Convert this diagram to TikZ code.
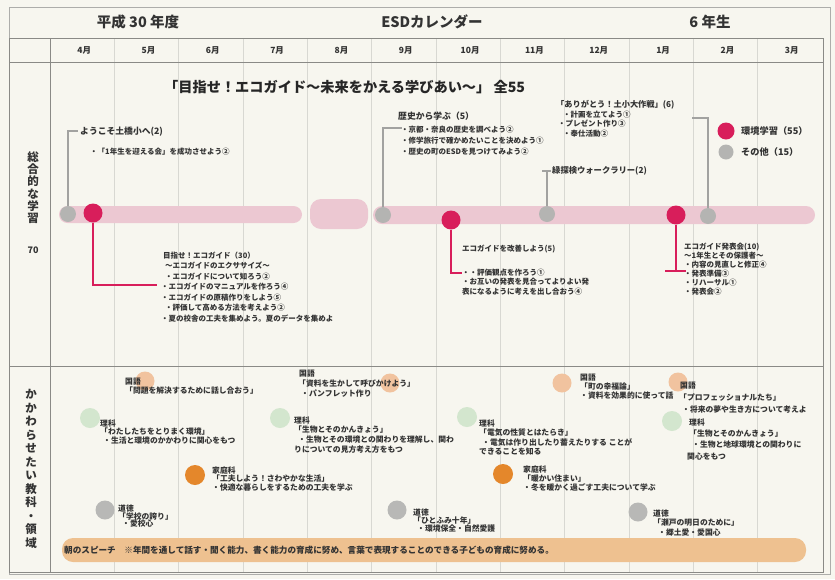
\documentclass[tikz,border=0pt]{standalone}
\usepackage{fontspec}
\setmainfont{Noto Sans CJK JP}
\definecolor{bg}{HTML}{F7F6EF}
\definecolor{ink}{HTML}{333333}
\definecolor{framec}{HTML}{8A8A86}
\definecolor{gridc}{HTML}{D8D8D2}
\definecolor{pinkbar}{HTML}{ECC8D2}
\definecolor{mag}{HTML}{D81E5B}
\definecolor{dotgray}{HTML}{B4B4B2}
\definecolor{linegray}{HTML}{A2A2A0}
\definecolor{kok}{HTML}{F1C39F}
\definecolor{rik}{HTML}{D3E6CE}
\definecolor{kat}{HTML}{E4872B}
\definecolor{dou}{HTML}{B8B8B6}
\definecolor{tanbar}{HTML}{EEC190}
\begin{document}
\begin{tikzpicture}[x=1pt,y=-1pt,
 frame/.style={draw=framec,line width=0.7pt},
 gridl/.style={draw=gridc,line width=0.5pt},
 hdr/.style={font=\fontsize{14.5}{16}\selectfont\bfseries,text=ink,inner sep=0},
 mon/.style={font=\fontsize{8.5}{10}\selectfont\bfseries,text=ink,inner sep=0},
 ln/.style={font=\fontsize{7.5}{9}\selectfont\bfseries,text=ink,inner sep=0,anchor=west},
 hd/.style={font=\fontsize{#1}{10}\selectfont\bfseries,text=ink,inner sep=0,anchor=west},
 blk/.style={font=\fontsize{7.5}{#1}\selectfont\bfseries,text=ink,inner sep=0,anchor=north west,align=left},
 blk/.default=9,
 sblk/.style={font=\fontsize{7.8}{#1}\selectfont\bfseries,text=ink,inner sep=0,anchor=north west,align=left},
 vlab/.style={font=\fontsize{11.5}{#1}\selectfont\bfseries,text=ink,inner sep=0,align=center},
 dot/.style={circle,inner sep=0,minimum size=#1},
 gdot/.style={dot=16,fill=dotgray},
 mdot/.style={dot=19,fill=mag},
 kdot/.style={dot=19,fill=kok},
 rdot/.style={dot=20,fill=rik},
 hdot/.style={dot=20,fill=kat},
 ddot/.style={dot=19,fill=dou},
 gline/.style={draw=linegray,line width=1.4pt},
 mline/.style={draw=mag,line width=1.8pt},
]
\useasboundingbox (0,0) rectangle (835,579);
\fill[bg] (0,0) rectangle (835,579);
% frame and table
\draw[draw=framec!70,line width=0.6pt] (9,7) rectangle (830,574);
\foreach \i in {1,...,11} \draw[gridl] ({50+\i*64.33},38) -- ({50+\i*64.33},572);
\draw[frame] (9,38) rectangle (823,572);
\draw[frame] (9,62) -- (823,62);
\draw[frame] (9,366) -- (823,366);
\draw[frame] (50,38) -- (50,572);
% header
\node[hdr] (h1) at (138,22) {平成 30 年度};
\node[hdr] (h2) at (432,22) {ESDカレンダー};
\node[hdr] (h3) at (710,22) {6 年生};
\foreach \m [count=\i] in {4月,5月,6月,7月,8月,9月,10月,11月,12月,1月,2月,3月}
  \node[mon] (mon\i) at ({52+(\i-0.5)*64.33},50) {\m};
% left labels
\node[vlab=12.3] (lab1) at (33,187.5) {総\\合\\的\\な\\学\\習};
\node[font=\fontsize{9}{10}\selectfont\bfseries,text=ink,inner sep=0] (lab70) at (33,250) {70};
\node[vlab=13.5] (lab2) at (31,469) {か\\か\\わ\\ら\\せ\\た\\い\\教\\科\\・\\領\\域};
% section 1 title
\node[font=\fontsize{14.2}{15}\selectfont\bfseries,text=black!85,inner sep=0,anchor=west] (title) at (164,87) {「目指せ！エコガイド～未来をかえる学びあい～」 全55};
% bars
\fill[pinkbar,rounded corners=8.5] (59,206) rectangle (302,223);
\fill[pinkbar,rounded corners=11] (310,199) rectangle (368,229);
\fill[pinkbar,rounded corners=9] (373,206) rectangle (815,224);
% circles
\node[gdot] (g1) at (68,214) {};
\node[mdot] (m1) at (93,213) {};
\node[gdot] (g2) at (383,215) {};
\node[mdot] (m2) at (451,220) {};
\node[gdot] (g3) at (547,214) {};
\node[mdot] (m3) at (676,215) {};
\node[gdot] (g4) at (708,216) {};
% legend
\node[dot=17,fill=mag] (lm) at (726,131) {};
\node[hd=9.2] (lmt) at (741,131) {環境学習（55）};
\node[dot=15,fill=dotgray] (lg) at (726,152) {};
\node[hd=9.2] (lgt) at (741,152) {その他（15）};
% connectors
\coordinate (g1e) at (78,131);
\draw[gline] (g1.north) |- (g1e);
\coordinate (g2e) at (402,128);
\draw[gline] (g2.north) |- (g2e);
\coordinate (g3e) at (551,171);
\coordinate (g3s) at (542,171);
\draw[gline] (g3.north) |- (g3e);
\draw[gline] (g3s) -- (g3e);
\coordinate (g4e) at (692,118);
\draw[gline] (g4.north) |- (g4e);
\coordinate (m1e) at (157,285);
\draw[mline] (m1.south) |- (m1e);
\coordinate (m2e) at (462,273);
\draw[mline] (m2.south) |- (m2e);
\coordinate (m3e) at (676,271);
\coordinate (m3a) at (665,271);
\coordinate (m3b) at (686,271);
\draw[mline] (m3.south) -- (m3e);
\draw[mline] (m3a) -- (m3b);
% section 1 texts
\node[hd=8.8] (t1) at (80,132) {ようこそ土橋小へ(2)};
\node[ln] (t1b) at (90,152) {・「1年生を迎える会」を成功させよう②};
\node[hd=8.8] (t2a) at (398,116) {歴史から学ぶ（5）};
\node[blk=11] (t2b) at (401,125.5) {・京都・奈良の歴史を調べよう②\\・修学旅行で確かめたいことを決めよう①\\・歴史の町のESDを見つけてみよう②};
\node[hd=8.3] (t3) at (552,171) {緑探検ウォークラリー(2)};
\node[hd=8.2] (t4a) at (556,105) {「ありがとう！土小大作戦」(6)};
\node[blk=9.7] (t4) at (556,110.5) {\hspace*{7pt}・計画を立てよう①\\\hspace*{2pt}・プレゼント作り③\\\hspace*{7pt}・奉仕活動②};
\node[blk=10.5] (t5) at (161,251.5) {\hspace*{2pt}目指せ！エコガイド（30）\\\hspace*{4pt}～エコガイドのエクササイズ～\\\hspace*{4pt}・エコガイドについて知ろう②\\・エコガイドのマニュアルを作ろう④\\・エコガイドの原稿作りをしよう⑤\\\hspace*{4pt}・評価して高める方法を考えよう②\\・夏の校舎の工夫を集めよう。夏のデータを集めよ};
\node[ln] (t6a) at (462,249) {エコガイドを改善しよう(5)};
\node[blk=9.5] (t6b) at (462,268.5) {・・評価観点を作ろう①\\・お互いの発表を見合ってよりよい発\\表になるように考えを出し合おう④};
\node[blk=9] (t7) at (684,242.5) {エコガイド発表会(10)\\～1年生とその保護者～\\・内容の見直しと修正④\\・発表準備③\\・リハーサル①\\・発表会②};
% section 2 circles
\node[kdot] (ck1) at (145,381) {};
\node[rdot] (cr1) at (90,418) {};
\node[kdot] (ck2) at (390,383) {};
\node[rdot] (cr2) at (280,418) {};
\node[rdot] (cr3) at (467,417) {};
\node[kdot] (ck3) at (562,383) {};
\node[kdot] (ck4) at (678,382) {};
\node[rdot] (cr4) at (672,421) {};
\node[hdot] (ch1) at (195,475) {};
\node[hdot] (ch2) at (503,474) {};
\node[ddot] (cd1) at (105,510) {};
\node[ddot] (cd2) at (397,510) {};
\node[ddot] (cd3) at (638,512) {};
% bottom bar
\fill[tanbar,rounded corners=11] (62,538) rectangle (806,562);
\node[hd=8.6] (speech) at (64,550) {朝のスピーチ　※年間を通して話す・聞く能力、書く能力の育成に努め、言葉で表現することのできる子どもの育成に努める。};
% section 2 texts
\node[sblk=9] (k1) at (125,377.5) {国語\\「問題を解決するために話し合おう」};
\node[sblk=8.6] (r1) at (100,419.5) {理科\\「わたしたちをとりまく環境」\\\hspace*{3pt}・生活と環境のかかわりに関心をもつ};
\node[sblk=10] (k2) at (298,369.5) {\hspace*{1pt}国語\\「資料を生かして呼びかけよう」\\\hspace*{3pt}・パンフレット作り};
\node[sblk=9.6] (r2) at (294,416.5) {理科\\「生物とそのかんきょう」\\\hspace*{4pt}・生物とその環境との関わりを理解し、関わ\\りについての見方考え方をもつ};
\node[sblk=9.4] (r3) at (479,419.5) {理科\\「電気の性質とはたらき」\\\hspace*{3pt}・電気は作り出したり蓄えたりする ことが\\できることを知る};
\node[sblk=9.3] (k3) at (580,373.5) {国語\\「町の幸福論」\\・資料を効果的に使って話};
\node[sblk=12] (k4) at (679,381.5) {\hspace*{1pt}国語\\「プロフェッショナルたち」\\\hspace*{3pt}・将来の夢や生き方について考えよ};
\node[sblk=11.3] (r4) at (687,418.5) {\hspace*{2pt}理科\\\hspace*{2pt}「生物とそのかんきょう」\\\hspace*{5pt}・生物と地球環境との関わりに\\関心をもつ};
\node[sblk=8.6] (h1t) at (212,466.5) {家庭科\\「工夫しよう！さわやかな生活」\\・快適な暮らしをするための工夫を学ぶ};
\node[sblk=9] (h2t) at (523,465.5) {家庭科\\「暖かい住まい」\\・冬を暖かく過ごす工夫について学ぶ};
\node[sblk=7.8] (d1) at (118,504.5) {道徳\\「学校の誇り」\\\hspace*{4pt}・愛校心};
\node[sblk=8] (d2) at (413,508.5) {道徳\\「ひとふみ十年」\\\hspace*{4pt}・環境保全・自然愛護};
\node[sblk=9.5] (d3) at (653,509.5) {道徳\\「瀬戸の明日のために」\\\hspace*{5pt}・郷土愛・愛国心};
\end{tikzpicture}
\end{document}
